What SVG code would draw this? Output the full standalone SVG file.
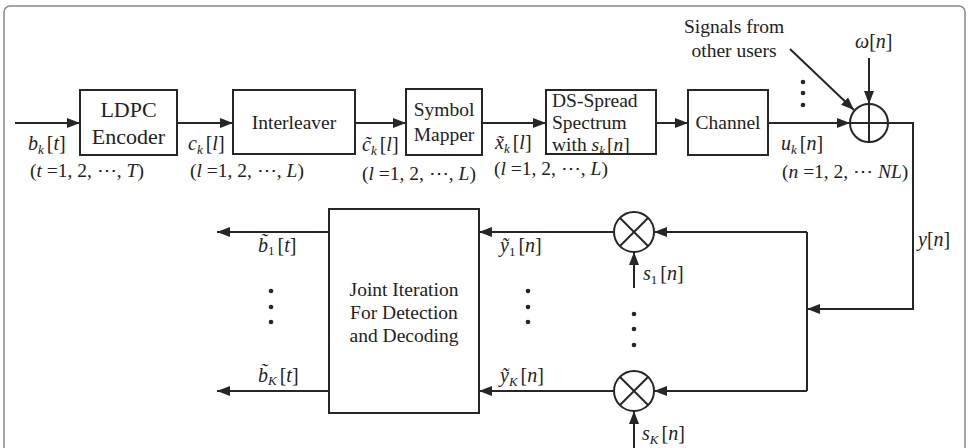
<svg xmlns="http://www.w3.org/2000/svg" width="970" height="448" viewBox="0 0 970 448" font-family="'Liberation Serif', 'DejaVu Serif', serif">
<defs>
<marker id="ah" markerUnits="userSpaceOnUse" markerWidth="14" markerHeight="10" refX="13" refY="5" orient="auto">
<path d="M0,0 L13,5 L0,10 z" fill="#262626"/>
</marker>
<style>
.box{fill:#fff;stroke:#262626;stroke-width:2}
.ln{fill:none;stroke:#262626;stroke-width:2}
.ar{fill:none;stroke:#262626;stroke-width:2;marker-end:url(#ah)}
text{font-family:'Liberation Serif','DejaVu Serif',serif;fill:#222;font-size:19.5px}
.t{text-anchor:middle}
.m{font-size:20px}
.p{font-size:19.5px}
.i{font-style:italic}
.s{font-size:13px;font-style:italic}
.n{font-size:13px}
.dot{fill:#262626}
</style>
</defs>
<rect x="0" y="0" width="970" height="448" fill="#fff"/>
<rect x="4" y="6" width="961" height="470" rx="6" fill="none" stroke="#888" stroke-width="1.5"/>

<g id="connectors">
<line class="ar" x1="15" y1="123" x2="80" y2="123"/>
<line class="ar" x1="177" y1="123" x2="233" y2="123"/>
<line class="ar" x1="355" y1="123" x2="406" y2="123"/>
<line class="ar" x1="482" y1="123" x2="546" y2="123"/>
<line class="ar" x1="656" y1="123" x2="688" y2="123"/>
<line class="ar" x1="768" y1="123" x2="850" y2="123"/>
<line class="ar" x1="790" y1="49" x2="854" y2="110"/>
<line class="ar" x1="869" y1="58" x2="869" y2="104"/>
<polyline class="ar" points="888,123 913,123 913,309 807,309"/>
<line class="ln" x1="807" y1="232" x2="807" y2="391"/>
<line class="ar" x1="807" y1="232" x2="654" y2="232"/>
<line class="ar" x1="807" y1="391" x2="654" y2="391"/>
<line class="ar" x1="614" y1="232" x2="479" y2="232"/>
<line class="ar" x1="614" y1="391" x2="479" y2="391"/>
<line class="ar" x1="634" y1="288" x2="634" y2="252"/>
<line class="ar" x1="634" y1="450" x2="634" y2="411"/>
<line class="ar" x1="329" y1="232" x2="217" y2="232"/>
<line class="ar" x1="329" y1="391" x2="217" y2="391"/>
</g>

<g id="ldpc">
<rect class="box" x="80" y="90" width="97" height="65"/>
<text class="t" x="128.5" y="117" style="font-size:22px">LDPC</text>
<text class="t" x="128.5" y="144" style="font-size:22px">Encoder</text>
</g>
<g id="interleaver">
<rect class="box" x="233" y="90" width="122" height="64"/>
<text class="t" x="294" y="129">Interleaver</text>
</g>
<g id="mapper">
<rect class="box" x="406" y="89" width="76" height="66"/>
<text class="t" x="444" y="116">Symbol</text>
<text class="t" x="444" y="141">Mapper</text>
</g>
<g id="dsspread">
<rect class="box" x="546" y="90" width="110" height="64"/>
<text x="552" y="107">DS-Spread</text>
<text x="552" y="129">Spectrum</text>
<text x="552" y="151">with  <tspan class="i">s</tspan><tspan class="s" dy="4">k</tspan><tspan dy="-4" dx="2">[</tspan><tspan class="i">n</tspan>]</text>
</g>
<g id="channel">
<rect class="box" x="688" y="90" width="80" height="65"/>
<text class="t" x="728" y="129">Channel</text>
</g>
<g id="adder">
<circle class="box" cx="869" cy="123" r="19"/>
<line class="ln" x1="850" y1="123" x2="888" y2="123"/>
<line class="ln" x1="869" y1="104" x2="869" y2="142"/>
</g>
<g id="mult1">
<circle class="box" cx="634" cy="232" r="20"/>
<line class="ln" x1="620" y1="218" x2="648" y2="246"/>
<line class="ln" x1="648" y1="218" x2="620" y2="246"/>
</g>
<g id="multK">
<circle class="box" cx="634" cy="391" r="20"/>
<line class="ln" x1="620" y1="377" x2="648" y2="405"/>
<line class="ln" x1="648" y1="377" x2="620" y2="405"/>
</g>
<g id="joint">
<rect class="box" x="329" y="209" width="150" height="204"/>
<text class="t" x="404" y="296">Joint Iteration</text>
<text class="t" x="404" y="319">For Detection</text>
<text class="t" x="404" y="342">and Decoding</text>
</g>

<g id="labels">
<text class="t" x="734" y="33">Signals from</text>
<text class="t" x="734" y="57">other users</text>
<text class="m" x="855" y="48"><tspan class="i">ω</tspan>[<tspan class="i">n</tspan>]</text>

<text class="m" x="28" y="150"><tspan class="i">b</tspan><tspan class="s" dy="4">k</tspan><tspan dy="-4" dx="3">[</tspan><tspan class="i">t</tspan>]</text>
<text class="p" x="30" y="177">(<tspan class="i">t</tspan> =1, 2, ⋯, <tspan class="i">T</tspan>)</text>
<text class="m" x="188" y="150"><tspan class="i">c</tspan><tspan class="s" dy="4">k</tspan><tspan dy="-4" dx="3">[</tspan><tspan class="i">l</tspan>]</text>
<text class="p" x="190" y="177">(<tspan class="i">l</tspan> =1, 2, ⋯, <tspan class="i">L</tspan>)</text>
<text class="m" x="362" y="151"><tspan class="i">c̃</tspan><tspan class="s" dy="4">k</tspan><tspan dy="-4" dx="3">[</tspan><tspan class="i">l</tspan>]</text>
<text class="p" x="362" y="180">(<tspan class="i">l</tspan> =1, 2, ⋯, <tspan class="i">L</tspan>)</text>
<text class="m" x="495" y="149"><tspan class="i">x̃</tspan><tspan class="s" dy="4">k</tspan><tspan dy="-4" dx="3">[</tspan><tspan class="i">l</tspan>]</text>
<text class="p" x="494" y="175">(<tspan class="i">l</tspan> =1, 2, ⋯, <tspan class="i">L</tspan>)</text>
<text class="m" x="781" y="150"><tspan class="i">u</tspan><tspan class="s" dy="4">k</tspan><tspan dy="-4" dx="3">[</tspan><tspan class="i">n</tspan>]</text>
<text class="p" x="782" y="178">(<tspan class="i">n</tspan> =1, 2, ⋯ <tspan class="i">NL</tspan>)</text>
<text class="m" x="918" y="246"><tspan class="i">y</tspan>[<tspan class="i">n</tspan>]</text>

<text class="m" x="258" y="252"><tspan class="i">b̃</tspan><tspan class="n" dy="3">1</tspan><tspan dy="-3" dx="3">[</tspan><tspan class="i">t</tspan>]</text>
<text class="m" x="258" y="382"><tspan class="i">b̃</tspan><tspan class="s" dy="3">K</tspan><tspan dy="-3" dx="3">[</tspan><tspan class="i">t</tspan>]</text>
<text class="m" x="500" y="252"><tspan class="i">ỹ</tspan><tspan class="n" dy="4">1</tspan><tspan dy="-4" dx="3">[</tspan><tspan class="i">n</tspan>]</text>
<text class="m" x="500" y="382"><tspan class="i">ỹ</tspan><tspan class="s" dy="4">K</tspan><tspan dy="-4" dx="3">[</tspan><tspan class="i">n</tspan>]</text>
<text class="m" x="643" y="280"><tspan class="i">s</tspan><tspan class="n" dy="4">1</tspan><tspan dy="-4" dx="3">[</tspan><tspan class="i">n</tspan>]</text>
<text class="m" x="642" y="440"><tspan class="i">s</tspan><tspan class="s" dy="4">K</tspan><tspan dy="-4" dx="3">[</tspan><tspan class="i">n</tspan>]</text>
</g>

<g id="dots">
<circle class="dot" cx="803" cy="82" r="2.3"/>
<circle class="dot" cx="803" cy="93" r="2.3"/>
<circle class="dot" cx="803" cy="105" r="2.3"/>
<circle class="dot" cx="271" cy="291" r="2.3"/>
<circle class="dot" cx="271" cy="307" r="2.3"/>
<circle class="dot" cx="271" cy="322" r="2.3"/>
<circle class="dot" cx="528" cy="291" r="2.3"/>
<circle class="dot" cx="528" cy="307" r="2.3"/>
<circle class="dot" cx="528" cy="322" r="2.3"/>
<circle class="dot" cx="634" cy="314" r="2.3"/>
<circle class="dot" cx="634" cy="329" r="2.3"/>
<circle class="dot" cx="634" cy="345" r="2.3"/>
</g>
</svg>
